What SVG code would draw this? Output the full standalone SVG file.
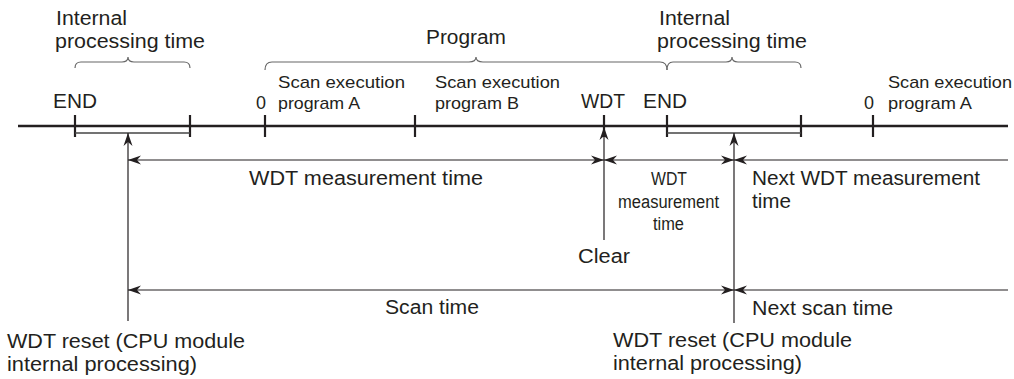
<svg xmlns="http://www.w3.org/2000/svg" width="1014" height="379" viewBox="0 0 1014 379">
<style>
text{font-family:"Liberation Sans",Arial,sans-serif;fill:#231f20;font-size:20px}
.s{font-size:17px}
.z{font-size:19px}
.c{font-size:18px}
.axis{stroke:#231f20;stroke-width:2.6;fill:none}
.tick{stroke:#231f20;stroke-width:2.2;fill:none}
.brk{stroke:#444;stroke-width:1.6;fill:none}
.brace{stroke:#666;stroke-width:1.2;fill:none}
.dim{stroke:#231f20;stroke-width:1.2;fill:none}
</style>
<defs>
<marker id="ah" viewBox="-15 -6 16 12" refX="0" refY="0" markerWidth="16" markerHeight="12" orient="auto-start-reverse" markerUnits="userSpaceOnUse">
<path d="M0,0 L-13,-4.5 L-9,0 L-13,4.5 Z" fill="#231f20"/>
</marker>
</defs>
<rect width="1014" height="379" fill="#fff"/>

<g id="timeline">
<line class="axis" x1="18" y1="126" x2="1008" y2="126"/>
</g>

<g id="internal-1">
<path class="brace" d="M75,68 Q75,62 81,62 L122,62 Q128,62 128,57 Q128,62 134,62 L184,62 Q190,62 190,68"/>
<text x="56" y="25" textLength="71" lengthAdjust="spacingAndGlyphs">Internal</text>
<text x="55" y="48" textLength="150" lengthAdjust="spacingAndGlyphs">processing time</text>
<line class="tick" x1="75" y1="115" x2="75" y2="137"/>
<line class="tick" x1="190" y1="115" x2="190" y2="137"/>
<line class="brk" x1="75" y1="133" x2="190" y2="133"/>
<text x="53" y="108" textLength="44" lengthAdjust="spacingAndGlyphs">END</text>
</g>

<g id="program">
<path class="brace" d="M265,70 Q265,62 272,62 L469,62 Q476,62 476,57 Q476,62 483,62 L660,62 Q667,62 667,70"/>
<text x="426" y="44" textLength="80" lengthAdjust="spacingAndGlyphs">Program</text>
</g>

<g id="scan-a">
<line class="tick" x1="265" y1="115" x2="265" y2="137"/>
<text class="z" x="256" y="109" textLength="10" lengthAdjust="spacingAndGlyphs">0</text>
<text class="s" x="278" y="88" textLength="127" lengthAdjust="spacingAndGlyphs">Scan execution</text>
<text class="s" x="278" y="109" textLength="82" lengthAdjust="spacingAndGlyphs">program A</text>
</g>

<g id="scan-b">
<line class="tick" x1="415" y1="115" x2="415" y2="137"/>
<text class="s" x="435" y="88" textLength="125" lengthAdjust="spacingAndGlyphs">Scan execution</text>
<text class="s" x="435" y="109" textLength="84" lengthAdjust="spacingAndGlyphs">program B</text>
</g>

<g id="wdt">
<line class="tick" x1="604" y1="115" x2="604" y2="137"/>
<text x="581" y="108" textLength="44" lengthAdjust="spacingAndGlyphs">WDT</text>
</g>

<g id="internal-2">
<path class="brace" d="M667,70 Q667,62 673,62 L726,62 Q732,62 732,57 Q732,62 738,62 L795,62 Q801,62 801,68"/>
<text x="659" y="25" textLength="71" lengthAdjust="spacingAndGlyphs">Internal</text>
<text x="657" y="48" textLength="150" lengthAdjust="spacingAndGlyphs">processing time</text>
<line class="tick" x1="667" y1="115" x2="667" y2="137"/>
<line class="tick" x1="801" y1="115" x2="801" y2="137"/>
<line class="brk" x1="667" y1="133" x2="801" y2="133"/>
<text x="643" y="108" textLength="44" lengthAdjust="spacingAndGlyphs">END</text>
</g>

<g id="scan-a-next">
<line class="tick" x1="873" y1="115" x2="873" y2="137"/>
<text class="z" x="864" y="109" textLength="10" lengthAdjust="spacingAndGlyphs">0</text>
<text class="s" x="888" y="88" textLength="124" lengthAdjust="spacingAndGlyphs">Scan execution</text>
<text class="s" x="888" y="109" textLength="84" lengthAdjust="spacingAndGlyphs">program A</text>
</g>

<g id="connectors">
<line class="dim" x1="128" y1="321" x2="128" y2="133" marker-end="url(#ah)"/>
<line class="dim" x1="604" y1="240" x2="604" y2="127" marker-end="url(#ah)"/>
<line class="dim" x1="734" y1="323" x2="734" y2="133" marker-end="url(#ah)"/>
<line class="dim" x1="128" y1="160" x2="604" y2="160" marker-start="url(#ah)" marker-end="url(#ah)"/>
<line class="dim" x1="604" y1="160" x2="734" y2="160" marker-start="url(#ah)" marker-end="url(#ah)"/>
<line class="dim" x1="734" y1="160" x2="1008" y2="160" marker-start="url(#ah)"/>
<line class="dim" x1="128" y1="290" x2="734" y2="290" marker-start="url(#ah)" marker-end="url(#ah)"/>
<line class="dim" x1="734" y1="290" x2="1008" y2="290" marker-start="url(#ah)"/>
</g>

<g id="wdt-measure">
<text x="249" y="185" textLength="234" lengthAdjust="spacingAndGlyphs">WDT measurement time</text>
</g>

<g id="wdt-measure-short">
<text class="c" x="651" y="185" textLength="36" lengthAdjust="spacingAndGlyphs">WDT</text>
<text class="c" x="618" y="208" textLength="101" lengthAdjust="spacingAndGlyphs">measurement</text>
<text class="c" x="653" y="230" textLength="31" lengthAdjust="spacingAndGlyphs">time</text>
</g>

<g id="next-wdt">
<text x="752" y="185" textLength="228" lengthAdjust="spacingAndGlyphs">Next WDT measurement</text>
<text x="752" y="208" textLength="39" lengthAdjust="spacingAndGlyphs">time</text>
</g>

<g id="clear">
<text x="578" y="263" textLength="52" lengthAdjust="spacingAndGlyphs">Clear</text>
</g>

<g id="scan-time">
<text x="385" y="314" textLength="94" lengthAdjust="spacingAndGlyphs">Scan time</text>
</g>

<g id="next-scan">
<text x="752" y="315" textLength="141" lengthAdjust="spacingAndGlyphs">Next scan time</text>
</g>

<g id="reset-1">
<text x="7" y="348" textLength="238" lengthAdjust="spacingAndGlyphs">WDT reset (CPU module</text>
<text x="7" y="371" textLength="190" lengthAdjust="spacingAndGlyphs">internal processing)</text>
</g>

<g id="reset-2">
<text x="613" y="347" textLength="239" lengthAdjust="spacingAndGlyphs">WDT reset (CPU module</text>
<text x="613" y="370" textLength="189" lengthAdjust="spacingAndGlyphs">internal processing)</text>
</g>
</svg>
